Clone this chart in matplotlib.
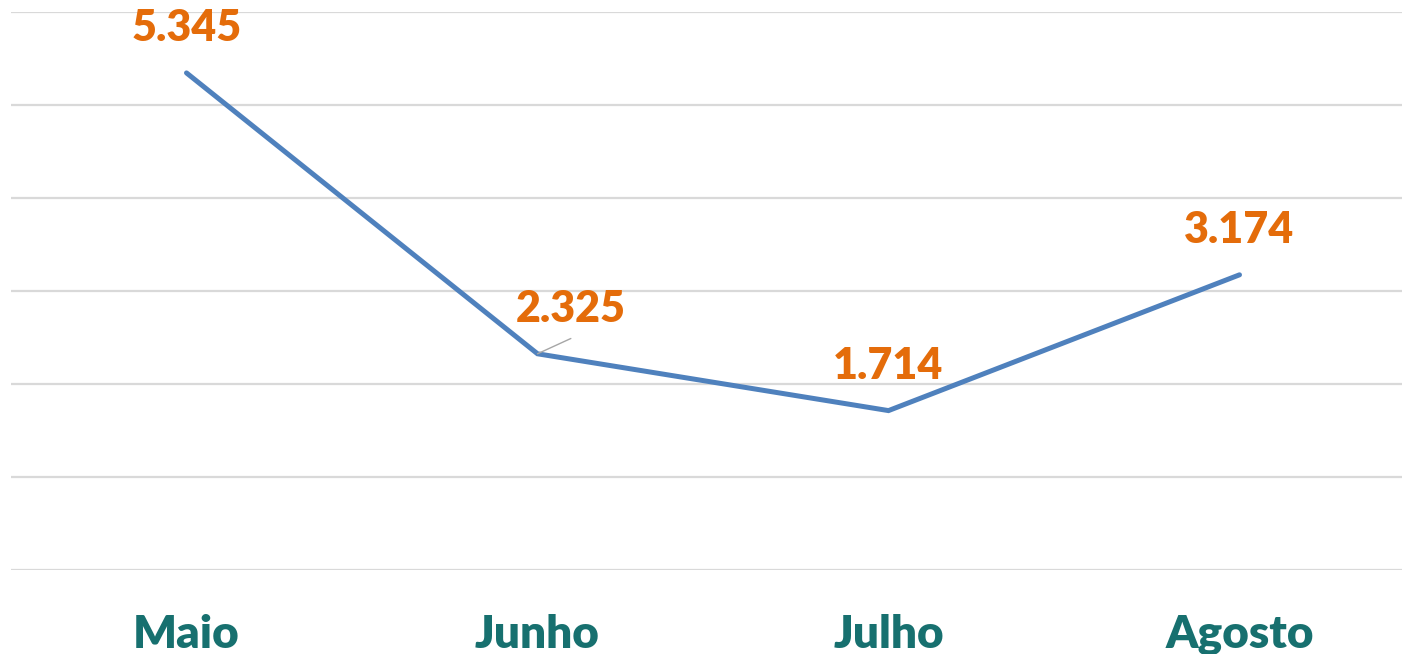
import matplotlib
matplotlib.use("Agg")
import matplotlib.pyplot as plt

months = ["Maio", "Junho", "Julho", "Agosto"]
values = [5345, 2325, 1714, 3174]
labels = ["5.345", "2.325", "1.714", "3.174"]
yticks = [0, 1000, 2000, 3000, 4000, 5000, 6000]

W, H = 1402, 654
fig = plt.figure(figsize=(W / 100, H / 100), dpi=100)
ax = fig.add_axes([11 / W, (H - 570) / H, 1404 / W, 558 / H])

x = list(range(len(months)))
ax.plot(x, values, color="#4F81BD", lw=3.6, solid_capstyle="round", solid_joinstyle="miter", zorder=3)

ax.set_xlim(-0.5, len(months) - 0.5)
ax.set_ylim(0, 6000)
ax.set_yticks(yticks)
ax.yaxis.grid(True, color="#D9D9D9", lw=1.6)
ax.set_axisbelow(True)
ax.tick_params(axis="y", left=False, labelleft=False)
ax.tick_params(axis="x", bottom=False, pad=28)
ax.set_xticks(x)
ax.set_xticklabels(months, fontsize=33, fontweight="heavy", color="#17706F", family="Lato")
for s in ax.spines.values():
    s.set_visible(False)

offsets = [(0, 32), (24, 32), (0, 32), (0, 32)]
for xi, v, lab, (dx, dy) in zip(x, values, labels, offsets):
    ax.annotate(lab, (xi, v), xytext=(dx, dy), textcoords="offset points",
                ha="center", va="center", fontsize=31, fontweight="heavy",
                color="#E46C0A", family="Lato", zorder=4)

# leader line for Junho
ax.annotate("", (1, values[1]), xytext=(24, 11), textcoords="offset points",
            arrowprops=dict(arrowstyle="-", color="#A6A6A6", lw=1.0, shrinkA=0, shrinkB=0))

fig.savefig("out.png", dpi=100)
